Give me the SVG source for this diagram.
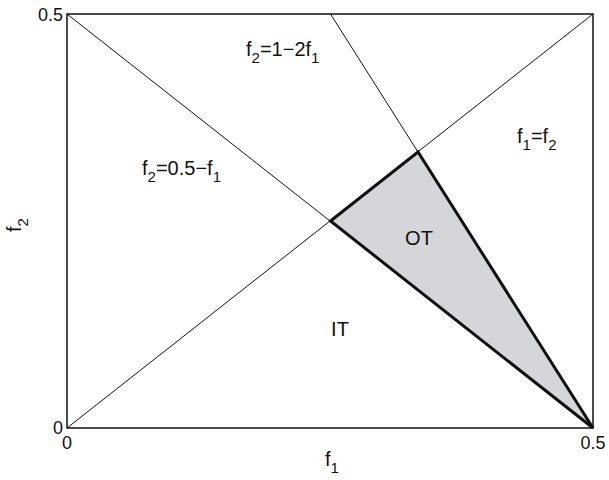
<svg xmlns="http://www.w3.org/2000/svg" width="609" height="480" viewBox="0 0 609 480">
<style>
text{font-family:"Liberation Sans",Arial,sans-serif;fill:#111}
.tk{font-size:18px}
.lb{font-size:20px}
.sub{font-size:15px}
.thin{stroke:#111;stroke-width:1;fill:none}
</style>
<rect width="609" height="480" fill="#fff"/>
<g id="connectors">
<line class="thin" x1="67" y1="428" x2="593" y2="14"/>
<line class="thin" x1="67" y1="14" x2="593" y2="428"/>
<line class="thin" x1="330.5" y1="14" x2="593" y2="428"/>
</g>
<g id="OT-region">
<polygon points="330.5,221 418,152 593,428" fill="#d5d6d9" stroke="#111" stroke-width="3" stroke-linejoin="miter"/>
</g>
<g id="frame">
<rect x="67" y="14" width="526" height="414" fill="none" stroke="#111" stroke-width="1.5"/>
</g>
<g id="ticks">
<text class="tk" x="63" y="21" text-anchor="end">0.5</text>
<text class="tk" x="63" y="434" text-anchor="end">0</text>
<text class="tk" x="67" y="449" text-anchor="middle">0</text>
<text class="tk" x="593" y="449" text-anchor="middle">0.5</text>
</g>
<g id="axis-labels">
<text class="lb" x="325" y="466">f<tspan class="sub" dy="7">1</tspan></text>
<text class="lb" transform="translate(21,232) rotate(-90)">f<tspan class="sub" dy="7">2</tspan></text>
</g>
<g id="label-f2-1-2f1">
<text class="lb" x="246" y="56">f<tspan class="sub" dy="7">2</tspan><tspan dy="-7">=1−2f</tspan><tspan class="sub" dy="7">1</tspan></text>
</g>
<g id="label-f1-f2">
<text class="lb" x="517" y="143">f<tspan class="sub" dy="7">1</tspan><tspan dy="-7">=f</tspan><tspan class="sub" dy="7">2</tspan></text>
</g>
<g id="label-f2-05-f1">
<text class="lb" x="142" y="175">f<tspan class="sub" dy="7">2</tspan><tspan dy="-7">=0.5−f</tspan><tspan class="sub" dy="7">1</tspan></text>
</g>
<g id="OT">
<text class="lb" x="419" y="245" text-anchor="middle">OT</text>
</g>
<g id="IT">
<text class="lb" x="340" y="336" text-anchor="middle">IT</text>
</g>
</svg>
